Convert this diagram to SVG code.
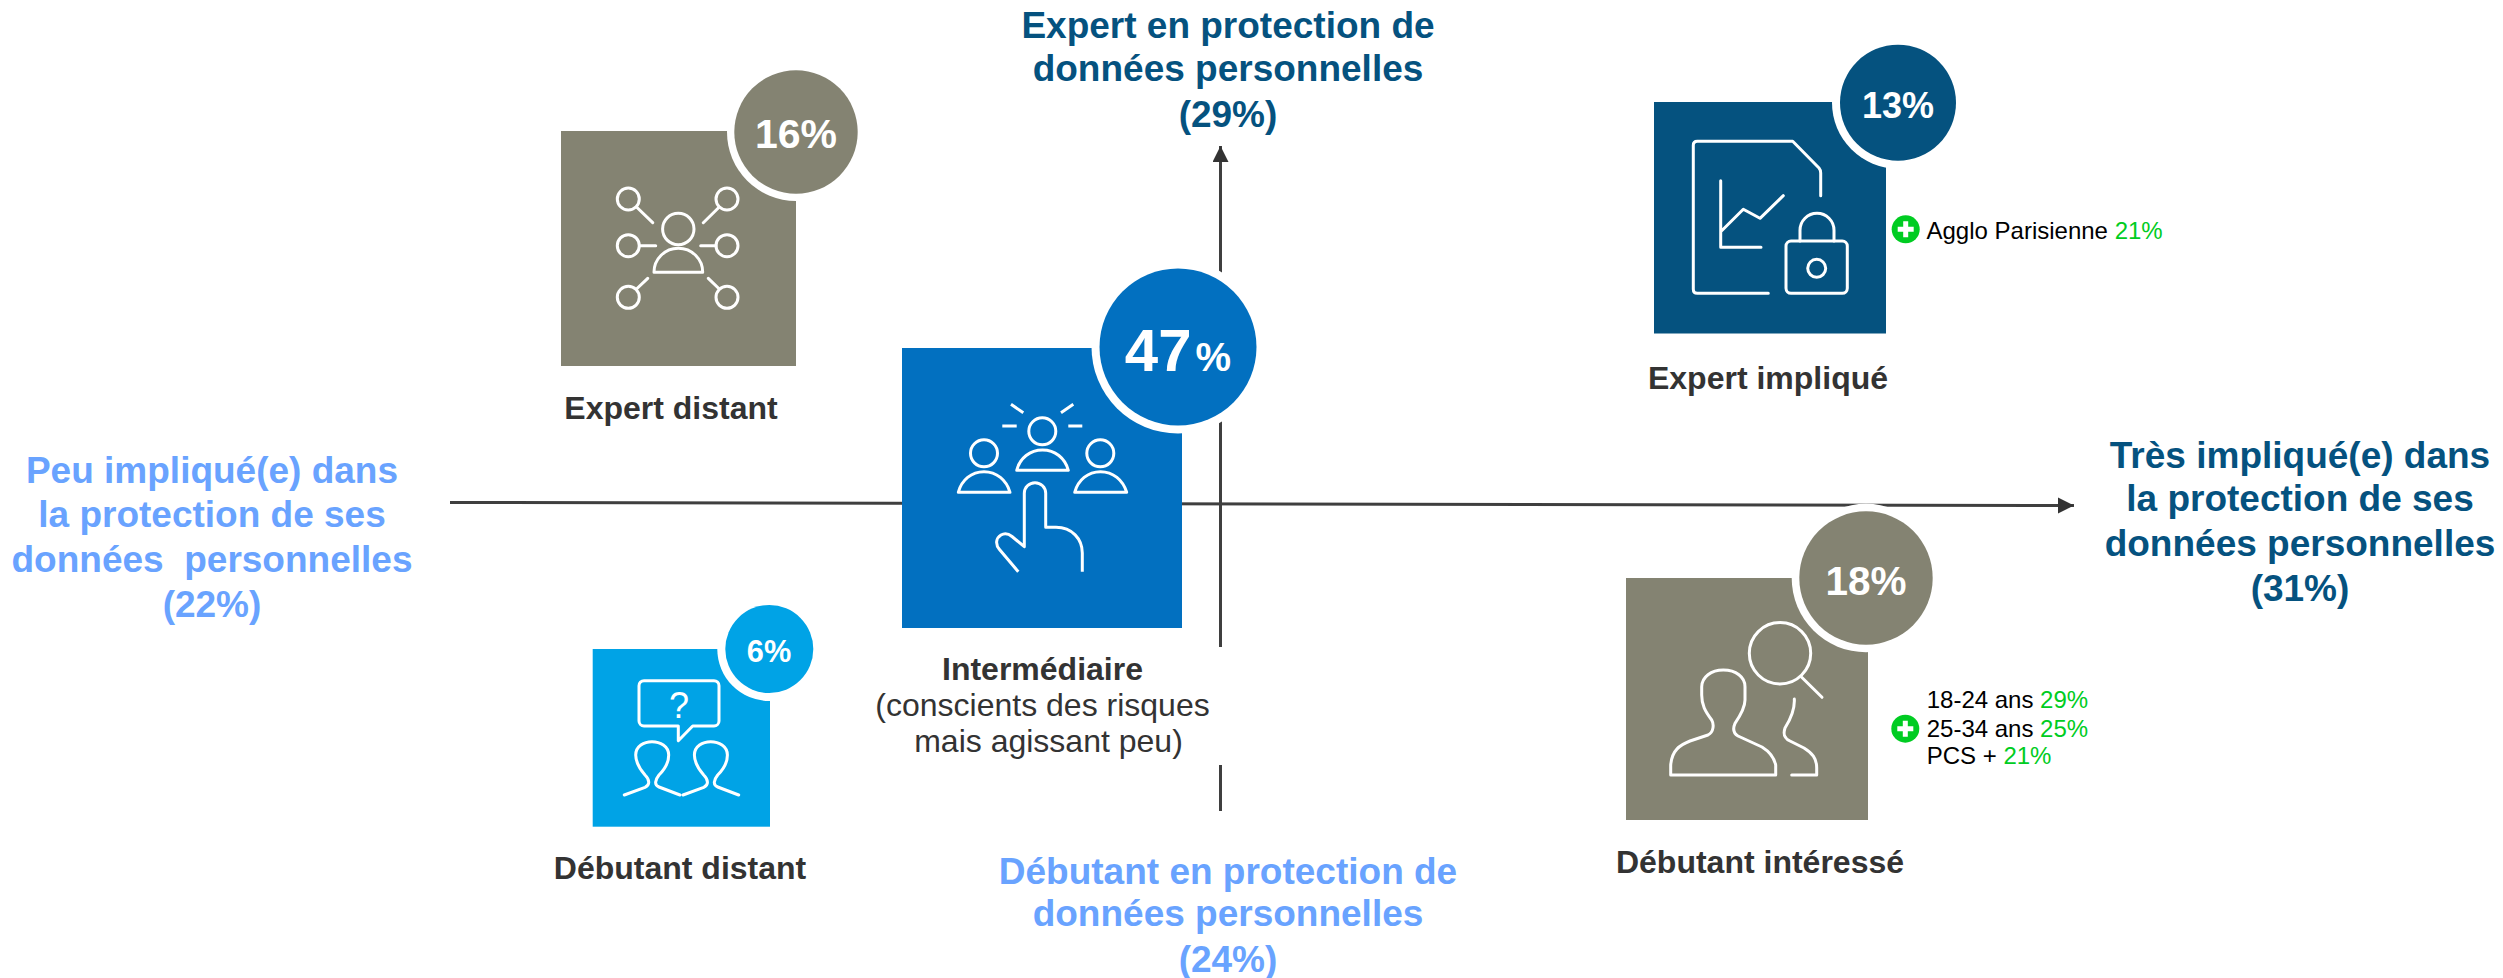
<svg xmlns="http://www.w3.org/2000/svg" width="2503" height="978" viewBox="0 0 2503 978">
<style>
text{font-family:"Liberation Sans",Arial,sans-serif}
.ax{font-size:37px;font-weight:700;text-anchor:middle}
.dk{fill:#05527f}.lt{fill:#69a3ff}
.lb{font-size:32px;font-weight:700;fill:#333;text-anchor:middle}
.lr{font-size:32px;fill:#333;text-anchor:middle}
.pc{font-weight:700;fill:#fff;text-anchor:middle}
.ic{fill:none;stroke:#fff;stroke-width:3;stroke-linecap:round;stroke-linejoin:round}
.sm{font-size:24px;fill:#000}.gr{fill:#0c2}
.axis{fill:none;stroke:#3f3f3f;stroke-width:3}
.halo{fill:#fff}
.pw{stroke:#fff;stroke-width:5;stroke-linecap:butt}
.olive{fill:#848372}.blue{fill:#0270c0}.navy{fill:#05527f}.sky{fill:#00a3e6}
</style>
<defs>
<marker id="arr" markerUnits="userSpaceOnUse" markerWidth="18" markerHeight="18" refX="16" refY="8" orient="auto"><path d="M0 0L16 8L0 16Z" fill="#333"/></marker>
<g id="plus"><circle r="14" fill="#0c2"/><path class="pw" d="M-8 0H8M0-8V8"/></g>
</defs>
<rect width="2503" height="978" fill="#fff"/>
<g id="connectors">
<line class="axis" x1="450" y1="502.5" x2="2074" y2="505.5" marker-end="url(#arr)"/>
<line class="axis" x1="1220.5" y1="647" x2="1220.5" y2="146" marker-end="url(#arr)"/>
<line class="axis" x1="1220.5" y1="811" x2="1220.5" y2="765"/>
</g>
<g id="axis-top"><text class="ax dk" x="1228" y="38">Expert en protection de</text><text class="ax dk" x="1228" y="81">données personnelles</text><text class="ax dk" x="1228" y="127">(29%)</text></g>
<g id="axis-bottom"><text class="ax lt" x="1228" y="884">Débutant en protection de</text><text class="ax lt" x="1228" y="926">données personnelles</text><text class="ax lt" x="1228" y="972">(24%)</text></g>
<g id="axis-left"><text class="ax lt" x="212" y="483">Peu impliqué(e) dans</text><text class="ax lt" x="212" y="527">la protection de ses</text><text class="ax lt" x="212" y="572">données&#160; personnelles</text><text class="ax lt" x="212" y="617">(22%)</text></g>
<g id="axis-right"><text class="ax dk" x="2300" y="468">Très impliqué(e) dans</text><text class="ax dk" x="2300" y="511">la protection de ses</text><text class="ax dk" x="2300" y="556">données personnelles</text><text class="ax dk" x="2300" y="601">(31%)</text></g>
<g id="expert-distant">
<rect class="olive" x="561" y="131" width="235" height="235"/>
<circle class="halo" cx="796" cy="132" r="69"/><circle class="olive" cx="796" cy="132" r="61.7"/>
<text class="pc" x="796" y="148" font-size="41">16%</text>
<g class="ic"><circle cx="678.3" cy="229" r="15.7"/><path d="M654 272.3A24.3 24 0 0 1 702.7 272.3Z"/>
<circle cx="628.3" cy="199" r="11"/><circle cx="727" cy="199" r="11"/><circle cx="628.3" cy="245.7" r="11"/><circle cx="727" cy="245.7" r="11"/><circle cx="628.3" cy="297.3" r="11"/><circle cx="727" cy="297.3" r="11"/>
<path d="M636.5 207L652.7 222.7M719.3 207L703.3 222.7M639.3 245.7H655.7M716 245.7H700.7M636.5 289L647.7 278.3M719.3 289L708.3 278.3"/></g>
<text class="lb" x="671" y="419">Expert distant</text>
</g>
<g id="intermediaire">
<rect class="blue" x="902" y="348" width="280" height="280"/>
<circle class="halo" cx="1178" cy="347" r="86.5"/><circle class="blue" cx="1178" cy="347" r="78.5"/>
<text class="pc" x="1178" y="370.5" font-size="60">47<tspan font-size="40" dx="4">%</tspan></text>
<g class="ic"><circle cx="1042.3" cy="431.3" r="13.5"/><path d="M1016.7 470.3C1020 458 1030 450 1042.5 450C1055 450 1065 458 1068.3 470.3Z"/>
<circle cx="984" cy="453.3" r="13.5"/><path d="M958.3 492.3C961.5 480 971.5 471.7 984 471.7C996.5 471.7 1006.5 480 1010 492.3Z"/>
<circle cx="1100.3" cy="453.3" r="13.5"/><path d="M1074.7 492.3C1078 480 1088 471.7 1100.5 471.7C1113 471.7 1123 480 1126.7 492.3Z"/>
<path stroke-linecap="butt" d="M1002.3 426H1016.7M1068.3 426H1082.3M1011 404.3L1023.3 412.7M1073.3 404.3L1061 412.7"/>
<path stroke-linecap="butt" d="M1018.3 571.7L999.5 549.5C995 544 996 538 1001 535C1005 532.5 1009 534 1012 536.5L1024.3 546.7V493.3A10.7 10.7 0 0 1 1045.7 493.3V527.3H1056C1072 527.3 1082.3 539 1082.3 553V571.7"/></g>
<text class="lb" x="1042.5" y="680">Intermédiaire</text><text class="lr" x="1042.5" y="715.5">(conscients des risques</text><text class="lr" x="1048.5" y="752">mais agissant peu)</text>
</g>
<g id="expert-implique">
<rect class="navy" x="1654" y="102" width="232" height="231.5"/>
<circle class="halo" cx="1898" cy="102.7" r="66"/><circle class="navy" cx="1898" cy="102.7" r="58"/>
<text class="pc" x="1898" y="118" font-size="36">13%</text>
<g class="ic" stroke-linecap="butt"><path d="M1768.3 293.3H1697.3Q1693.3 293.3 1693.3 289.3V145.3Q1693.3 141.3 1697.3 141.3H1792.7L1819 168Q1820.7 170 1820.7 173V195.7"/>
<path d="M1720.7 180.7V247.3H1761M1721.7 230.7L1743.3 209.3L1760 218.3L1783.3 195.7"/>
<rect x="1786" y="241" width="61.3" height="52.3" rx="5"/><path d="M1800 241V230.3A17 17 0 0 1 1834 230.3V241"/><circle cx="1816.7" cy="268.3" r="9"/></g>
<text class="lb" x="1768" y="389">Expert impliqué</text>
<use href="#plus" x="1905.7" y="229.3"/>
<text class="sm" x="1926.5" y="238.5">Agglo Parisienne <tspan class="gr">21%</tspan></text>
</g>
<g id="debutant-interesse">
<rect class="olive" x="1626" y="578" width="242" height="242"/>
<circle class="halo" cx="1866" cy="578" r="74.3"/><circle class="olive" cx="1866" cy="578" r="66.7"/>
<text class="pc" x="1866" y="595" font-size="40.5">18%</text>
<g class="ic" stroke-linecap="butt"><circle cx="1780" cy="653.3" r="30.7"/><path d="M1801.7 677.3L1822 697.3"/>
<path d="M1670.7 775V765C1672 750 1680 745 1690 741L1708 735C1714 732 1714 724 1711.7 720C1705 711 1701.7 705 1701.7 695V686.7C1702 677 1711 670 1723.3 670C1736 670 1745 677 1745 686.7V700C1745 708 1740 716 1735 723.3C1733 728 1733 733 1738 736L1762 747C1770 752 1774 757 1775.7 765V775Z"/>
<path d="M1794.3 699C1795 710 1790 720 1785 728C1783 734 1784 738 1790 741L1804 748C1812 753 1816.7 758 1816.7 768V775H1791.7"/></g>
<text class="lb" x="1760" y="873">Débutant intéressé</text>
<use href="#plus" x="1905.3" y="728.7"/>
<text class="sm" x="1926.7" y="708">18-24 ans <tspan class="gr">29%</tspan></text>
<text class="sm" x="1926.7" y="737">25-34 ans <tspan class="gr">25%</tspan></text>
<text class="sm" x="1926.7" y="764">PCS + <tspan class="gr">21%</tspan></text>
</g>
<g id="debutant-distant">
<rect class="sky" x="592.7" y="649" width="177.3" height="177.7"/>
<circle class="halo" cx="769.3" cy="649" r="52"/><circle class="sky" cx="769.3" cy="649" r="44"/>
<text class="pc" x="769" y="662" font-size="30.7">6%</text>
<g class="ic" stroke-width="2.5"><path d="M644 680.7H714A5 5 0 0 1 719 685.7V721A5 5 0 0 1 714 726H692.7L678.3 740.7V726H644A5 5 0 0 1 639 721V685.7A5 5 0 0 1 644 680.7Z"/>
<path d="M624.3 795L645 787.3C650 785 650 780 645 775C638 767 635.7 760 635.7 755C635.7 746 644 741.7 652 741.7C660 741.7 668.7 746 668.7 755C668.7 762 665 769 659 775C655 780 654 785 659 787L680 795"/>
<path d="M683 795L703.7 787.3C708.7 785 708.7 780 703.7 775C696.7 767 694.4 760 694.4 755C694.4 746 702.7 741.7 710.7 741.7C718.7 741.7 727.4 746 727.4 755C727.4 762 723.7 769 717.7 775C713.7 780 712.7 785 717.7 787L738.7 795"/></g>
<text x="679" y="718" font-size="36" fill="#fff" text-anchor="middle">?</text>
<text class="lb" x="680" y="879">Débutant distant</text>
</g>
</svg>
